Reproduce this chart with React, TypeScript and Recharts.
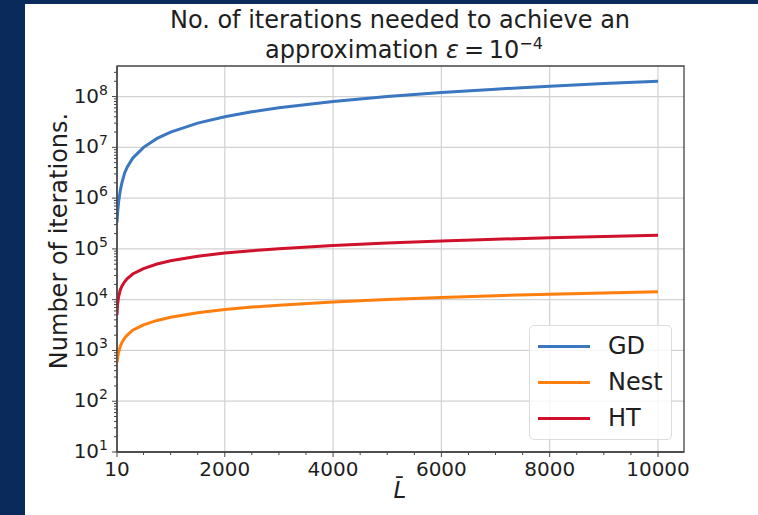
import React from 'react';
import { LineChart, Line, XAxis, YAxis, CartesianGrid, ReferenceArea } from 'recharts';

const L_VALUES = [10, 20, 40, 70, 100, 150, 200, 300, 500, 750, 1000, 1500, 2000, 2500, 3000, 4000, 5000, 6000, 7000, 8000, 9000, 10000];
const GD_VALUES = [3.3e5, 5.0e5, 8.5e5, 1.4e6, 2.0e6, 3.1e6, 4.1e6, 6.1e6, 1.0e7, 1.5e7, 2.0e7, 3.0e7, 4.0e7, 5.0e7, 6.0e7, 8.0e7, 1.0e8, 1.2e8, 1.4e8, 1.6e8, 1.8e8, 2.0e8];
const NEST_VALUES = [580, 700, 920, 1200, 1430, 1750, 2000, 2500, 3200, 3900, 4500, 5550, 6400, 7150, 7800, 9000, 10100, 11000, 12000, 12800, 13600, 14300];
const HT_VALUES = [5000, 8000, 11500, 15500, 18500, 22500, 26000, 32000, 41000, 50500, 58500, 71500, 83000, 92000, 101000, 117000, 131000, 143000, 155000, 165000, 176000, 185000];

const X_MAJOR = [10, 2000, 4000, 6000, 8000, 10000];
const X_MINOR = [500, 1000, 1500, 2500, 3000, 3500, 4500, 5000, 5500, 6500, 7000, 7500, 8500, 9000, 9500];
const Y_EXPONENTS = [1, 2, 3, 4, 5, 6, 7, 8];
const Y_MAJOR = Y_EXPONENTS.map((e) => Math.pow(10, e));
const Y_MINOR = Y_EXPONENTS.flatMap((e) => [2, 3, 4, 5, 6, 7, 8, 9].map((m) => m * Math.pow(10, e))).filter((v) => v < 4.0e8);

const X_DOMAIN = [10, 10480];
const Y_DOMAIN = [10, 4.0e8];

const SERIES = [
  { key: 'GD', color: '#3a77c0' },
  { key: 'Nest', color: '#ff7f0e' },
  { key: 'HT', color: '#d0112b' },
];

const data = L_VALUES.map((L, i) => ({ L, GD: GD_VALUES[i], Nest: NEST_VALUES[i], HT: HT_VALUES[i] }));

const NAVY = '#0a2a5c';
const FONT = '"DejaVu Sans", "Noto Sans", sans-serif';
const AXIS_COLOR = '#444';
const TEXT_COLOR = '#1e1e1e';

const XTick = (props: any) => {
  const { x, y, payload } = props;
  const v = payload.value;
  const major = X_MAJOR.includes(v);
  return (
    <g>
      <line x1={x} x2={x} y1={y} y2={y + (major ? 5 : 3)} stroke={AXIS_COLOR} strokeWidth={1} />
      {major && (
        <text x={x} y={y + 24} textAnchor="middle" fontSize={20} fill={TEXT_COLOR} fontFamily={FONT}>
          {String(v)}
        </text>
      )}
    </g>
  );
};

const YTick = (props: any) => {
  const { x, y, payload } = props;
  const v = payload.value;
  const exp = Math.round(Math.log10(v));
  const major = Math.abs(Math.pow(10, exp) - v) < 1e-6 * v;
  return (
    <g>
      <line x1={x} x2={x - (major ? 5 : 3)} y1={y} y2={y} stroke={AXIS_COLOR} strokeWidth={1} />
      {major && (
        <text x={x - 9} y={y + 6} textAnchor="end" fontSize={20} fill={TEXT_COLOR} fontFamily={FONT}>
          10
          <tspan fontSize={14} dy={-8}>{String(exp)}</tspan>
        </text>
      )}
    </g>
  );
};

export default function App() {
  return (
    <div style={{ position: 'absolute', left: 0, top: 0, width: 758, height: 515, background: NAVY, overflow: 'hidden', fontFamily: FONT }}>
      <div style={{ position: 'absolute', left: 25, top: 4, width: 733, height: 511, background: '#ffffff' }} />
      <div style={{ position: 'absolute', left: 0, top: 0 }}>
        <LineChart width={758} height={515} data={data} margin={{ top: 66, right: 74, bottom: 33, left: 57 }}>
          <CartesianGrid stroke="#d2d2d2" strokeWidth={1.2} horizontalValues={Y_MAJOR} verticalValues={X_MAJOR} />
          <XAxis
            dataKey="L"
            type="number"
            domain={X_DOMAIN}
            allowDataOverflow
            ticks={[...X_MAJOR, ...X_MINOR].sort((a, b) => a - b)}
            interval={0}
            tick={<XTick />}
            tickLine={false}
            tickSize={0}
            tickMargin={0}
            height={30}
            axisLine={{ stroke: AXIS_COLOR, strokeWidth: 1.3 }}
          />
          <YAxis
            type="number"
            scale="log"
            domain={Y_DOMAIN}
            allowDataOverflow
            ticks={[...Y_MAJOR, ...Y_MINOR].sort((a, b) => a - b)}
            interval={0}
            tick={<YTick />}
            tickLine={false}
            tickSize={0}
            tickMargin={0}
            width={60}
            axisLine={{ stroke: AXIS_COLOR, strokeWidth: 1.3 }}
          />
          <ReferenceArea
            x1={X_DOMAIN[0]}
            x2={X_DOMAIN[1]}
            y1={Y_DOMAIN[0]}
            y2={Y_DOMAIN[1]}
            fill="none"
            fillOpacity={0}
            stroke={AXIS_COLOR}
            strokeWidth={1.3}
            ifOverflow="visible"
          />
          {SERIES.map((s) => (
            <Line key={s.key} dataKey={s.key} stroke={s.color} strokeWidth={3} dot={false} isAnimationActive={false} type="linear" />
          ))}
        </LineChart>
      </div>
      <svg width={758} height={515} style={{ position: 'absolute', left: 0, top: 0, pointerEvents: 'none' }}>
        <text x={400} y={27.5} textAnchor="middle" fontSize={24} fill={TEXT_COLOR} fontFamily={FONT}>
          No. of iterations needed to achieve an
        </text>
        <text x={404} y={58} textAnchor="middle" fontSize={24} fill={TEXT_COLOR} fontFamily={FONT}>
          approximation <tspan fontStyle="italic">ε</tspan>{'\u2009=\u200910'}
          <tspan fontSize={16} dy={-9}>−4</tspan>
        </text>
        <text transform="translate(67,241) rotate(-90)" x={0} y={0} textAnchor="middle" fontSize={24} fill={TEXT_COLOR} fontFamily={FONT}>
          Number of iterations.
        </text>
        <text x={400} y={498} textAnchor="middle" fontSize={23} fontStyle="italic" fill={TEXT_COLOR} fontFamily={FONT}>
          L̄
        </text>
      </svg>
      <div
        style={{
          position: 'absolute',
          left: 529,
          top: 325,
          width: 141,
          height: 113,
          border: '1px solid #dcdcdc',
          borderRadius: 5,
          background: 'rgba(255,255,255,0.8)',
        }}
      >
        {SERIES.map((s, i) => (
          <div key={s.key} style={{ position: 'absolute', left: 0, top: 4 + i * 36, height: 32, width: 141, display: 'flex', alignItems: 'center' }}>
            <div style={{ marginLeft: 8, width: 52, height: 3, background: s.color }} />
            <span style={{ marginLeft: 18, fontSize: 24, color: TEXT_COLOR, fontFamily: FONT, lineHeight: '32px' }}>{s.key}</span>
          </div>
        ))}
      </div>
    </div>
  );
}
